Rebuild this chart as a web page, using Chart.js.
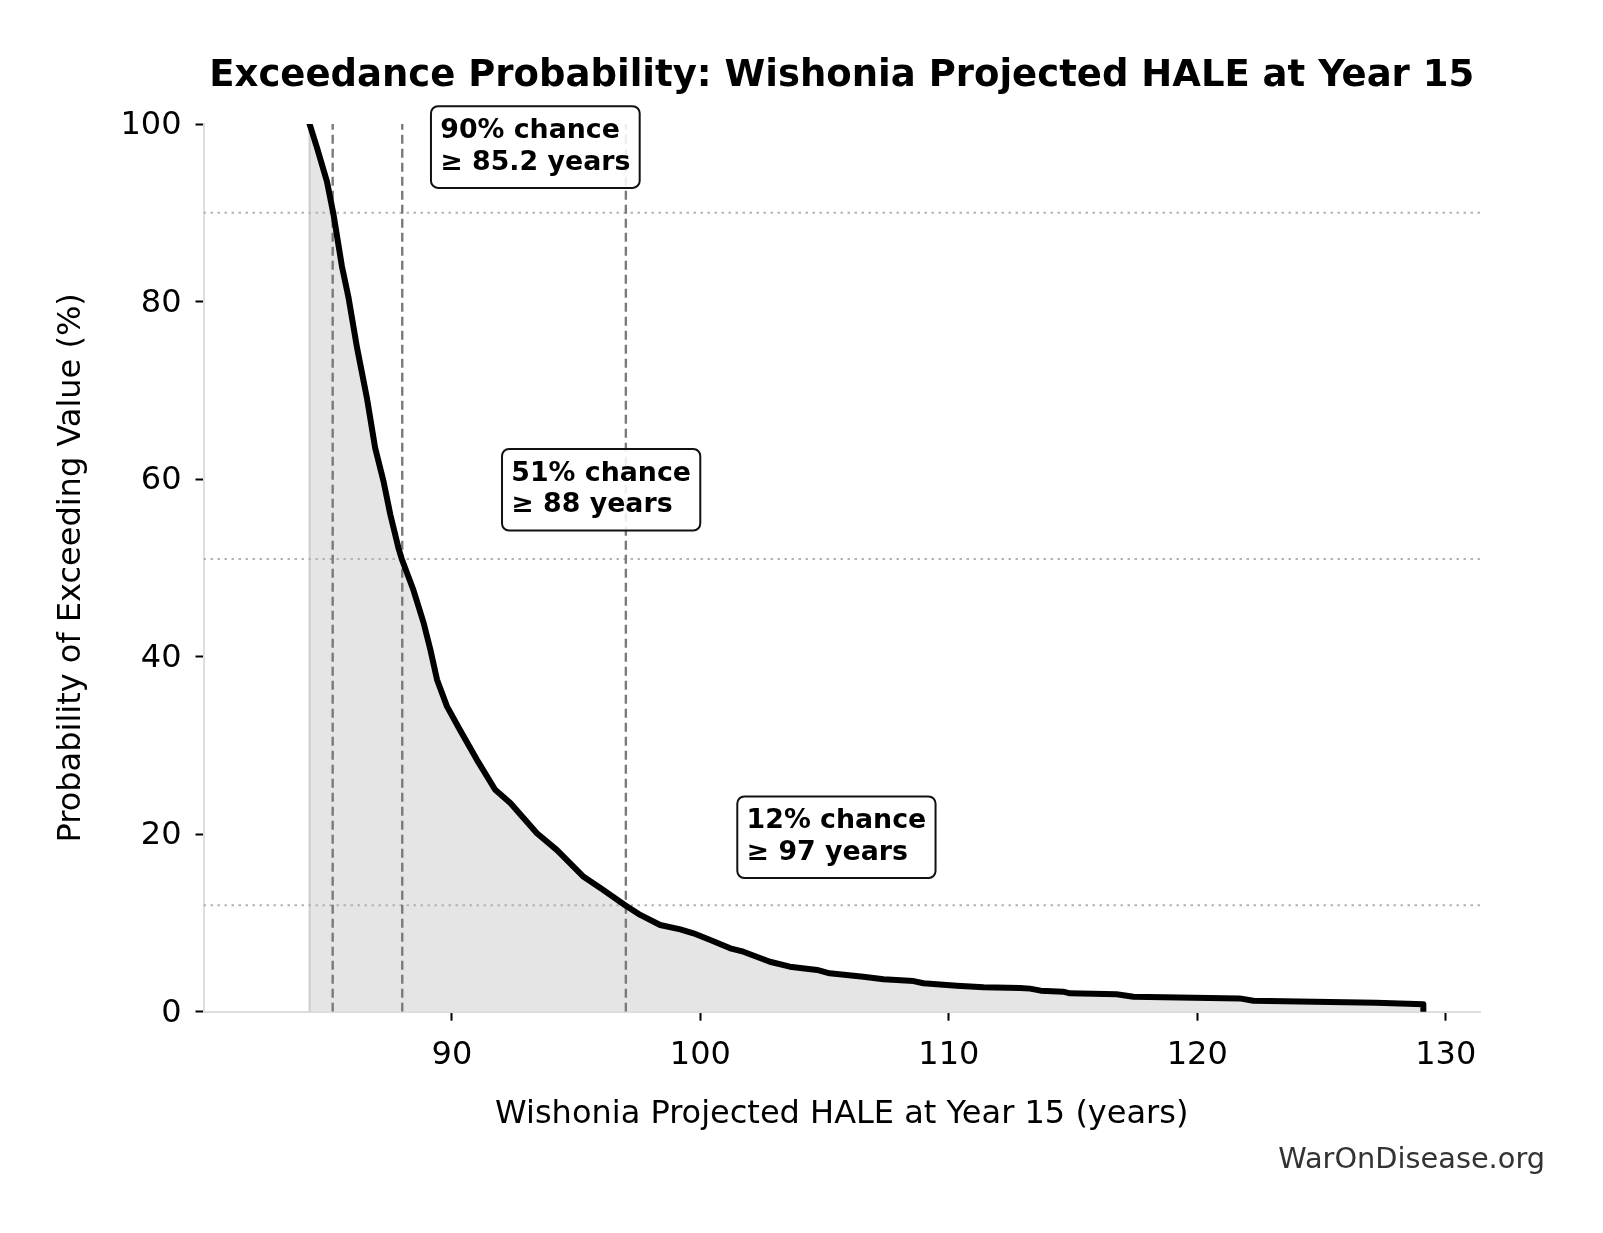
<!DOCTYPE html>
<html lang="en">
<head>
<meta charset="UTF-8">
<title>Exceedance Probability: Wishonia Projected HALE at Year 15</title>
<script src="https://cdn.jsdelivr.net/npm/chart.js"></script>
<style>
  body, html { margin: 0; padding: 0; background: #fff; }
  canvas { display: block; }
</style>
</head>
<body>
<canvas id="chart" width="1603" height="1233"></canvas>
<script>
// curve: projected HALE (years) vs. chance of exceeding it (%)
const haleYears = [84.27, 84.57, 84.97, 85.24, 85.57, 85.84, 86.18, 86.58, 86.91, 87.25,
  87.52, 87.85, 87.98, 88.45, 88.86, 89.13, 89.40, 89.80, 90.33, 91.00,
  91.74, 92.35, 93.42, 94.23, 95.30, 96.05, 96.97, 97.58, 98.38, 99.19,
  99.72, 100.4, 101.2, 101.73, 102.8, 103.6, 104.7, 105.2, 106.56, 107.37,
  108.58, 108.98, 110.32, 111.4, 112.87, 113.27, 113.7, 114.6, 114.88, 116.75,
  117.43, 121.7, 122.26, 127.2, 129.1, 129.1];
const exceedPct = [100, 97.3, 93.5, 89.7, 84.0, 80.4, 74.8, 69.1, 63.5, 59.7,
  56.0, 52.2, 51.0, 47.5, 43.8, 40.8, 37.4, 34.4, 31.7, 28.4,
  25.0, 23.5, 20.1, 18.2, 15.2, 13.8, 12.0, 10.9, 9.77, 9.28,
  8.83, 8.08, 7.14, 6.76, 5.63, 5.07, 4.70, 4.32, 3.94, 3.65,
  3.45, 3.2, 2.93, 2.75, 2.68, 2.6, 2.37, 2.26, 2.07, 1.96,
  1.69, 1.5, 1.24, 1.02, 0.83, 0];

// marked thresholds
const markYears = [85.2, 88, 97];
const markPct = [90, 51, 12];

const xTicks = [90, 100, 110, 120, 130];
const yTicks = [0, 20, 40, 60, 80, 100];

// where each callout sits (text left edge in years, box middle in %)
const calloutSpots = [[89.53, 97.4], [92.39, 58.8], [101.86, 19.65]];

const FONT = '"DejaVu Sans", "Liberation Sans", sans-serif';
const points = haleYears.map((v, i) => ({ x: v, y: exceedPct[i] }));

const overlay = {
  id: 'overlay',
  beforeDatasetDraw(chart, args) {
    if (args.index !== 2) return;
    const { ctx, chartArea: a, scales: { x, y } } = chart;
    ctx.save();
    ctx.beginPath();
    ctx.rect(a.left, a.top, a.right - a.left, a.bottom - a.top);
    ctx.clip();
    ctx.lineWidth = 2;
    ctx.strokeStyle = '#b3b3b3';
    ctx.setLineDash([2.5, 4.5]);
    markPct.forEach(p => {
      const py = y.getPixelForValue(p);
      ctx.beginPath();
      ctx.moveTo(a.left, py);
      ctx.lineTo(a.right, py);
      ctx.stroke();
    });
    ctx.strokeStyle = '#7a7a7a';
    ctx.lineWidth = 2.4;
    ctx.setLineDash([9, 5]);
    markYears.forEach(v => {
      const px = x.getPixelForValue(v);
      ctx.beginPath();
      ctx.moveTo(px, y.getPixelForValue(0));
      ctx.lineTo(px, y.getPixelForValue(100));
      ctx.stroke();
    });
    ctx.restore();
  },
  afterDraw(chart) {
    const { ctx, chartArea: a, scales: { x, y } } = chart;
    ctx.save();

    // callout boxes
    ctx.font = 'bold 26.8px ' + FONT;
    markYears.forEach((v, i) => {
      const lines = [markPct[i] + '% chance', '\u2265 ' + v + ' years'];
      const tx = x.getPixelForValue(calloutSpots[i][0]);
      const cy = y.getPixelForValue(calloutSpots[i][1]);
      const w = Math.max(...lines.map(s => ctx.measureText(s).width)) + 18.6;
      const h = 81.6;
      const bx = tx - 9.3, by = cy - h / 2;
      ctx.beginPath();
      ctx.roundRect(bx, by, w, h, 7);
      ctx.fillStyle = 'rgba(255,255,255,0.88)';
      ctx.fill();
      ctx.lineWidth = 2;
      ctx.strokeStyle = '#111';
      ctx.stroke();
      ctx.fillStyle = '#000';
      ctx.textAlign = 'left';
      ctx.textBaseline = 'alphabetic';
      ctx.fillText(lines[0], tx, by + 31.6);
      ctx.fillText(lines[1], tx, by + 63.3);
    });

    const midX = (a.left + a.right) / 2;
    ctx.fillStyle = '#000';
    ctx.textAlign = 'center';
    ctx.textBaseline = 'alphabetic';
    ctx.font = 'bold 37px ' + FONT;
    ctx.fillText('Exceedance Probability: Wishonia Projected HALE at Year 15', midX, 85.5);

    ctx.font = '32px ' + FONT;
    ctx.fillText('Wishonia Projected HALE at Year 15 (years)', midX, 1122.5);

    ctx.save();
    ctx.translate(72, (a.top + a.bottom) / 2);
    ctx.rotate(-Math.PI / 2);
    ctx.textBaseline = 'middle';
    ctx.fillText('Probability of Exceeding Value (%)', 0, 0);
    ctx.restore();

    ctx.font = '28.8px ' + FONT;
    ctx.fillStyle = '#333';
    ctx.textAlign = 'right';
    ctx.fillText('WarOnDisease.org', 1545, 1167.5);
    ctx.restore();
  }
};

new Chart(document.getElementById('chart'), {
  type: 'line',
  data: {
    datasets: [
      {
        data: points,
        fill: 'origin',
        backgroundColor: '#e5e5e5',
        borderWidth: 0,
        pointRadius: 0,
        order: 3
      },
      {
        data: [{ x: haleYears[0], y: 0 }, { x: haleYears[0], y: exceedPct[0] }],
        borderColor: '#cccccc',
        borderWidth: 2,
        pointRadius: 0,
        fill: false,
        order: 2
      },
      {
        data: points,
        borderColor: '#000',
        borderWidth: 6,
        borderJoinStyle: 'round',
        borderCapStyle: 'square',
        pointRadius: 0,
        fill: false,
        clip: 0,
        order: 1
      }
    ]
  },
  options: {
    responsive: false,
    animation: false,
    devicePixelRatio: 1,
    layout: { padding: { left: 0, top: 124, right: 123, bottom: 0 } },
    plugins: { legend: { display: false }, tooltip: { enabled: false }, title: { display: false } },
    scales: {
      x: {
        type: 'linear',
        min: 80,
        max: 131.38,
        afterBuildTicks: s => { s.ticks = xTicks.map(v => ({ value: v })); },
        afterFit: s => { s.height = 221.3; },
        grid: { display: true, drawOnChartArea: false, drawTicks: true, tickLength: 9, tickWidth: 2, tickColor: '#000' },
        border: { display: true, color: '#dddddd', width: 2 },
        ticks: { color: '#000', font: { family: FONT, size: 32 }, padding: 16, maxRotation: 0 }
      },
      y: {
        min: 0,
        max: 100,
        afterBuildTicks: s => { s.ticks = yTicks.map(v => ({ value: v })); },
        afterFit: s => { s.width = 203.5; },
        grid: { display: true, drawOnChartArea: false, drawTicks: true, tickLength: 8, tickWidth: 2, tickColor: '#000' },
        border: { display: true, color: '#dddddd', width: 2 },
        ticks: { color: '#000', font: { family: FONT, size: 32 }, padding: 14, labelOffset: 2 }
      }
    }
  },
  plugins: [overlay]
});
</script>
</body>
</html>
